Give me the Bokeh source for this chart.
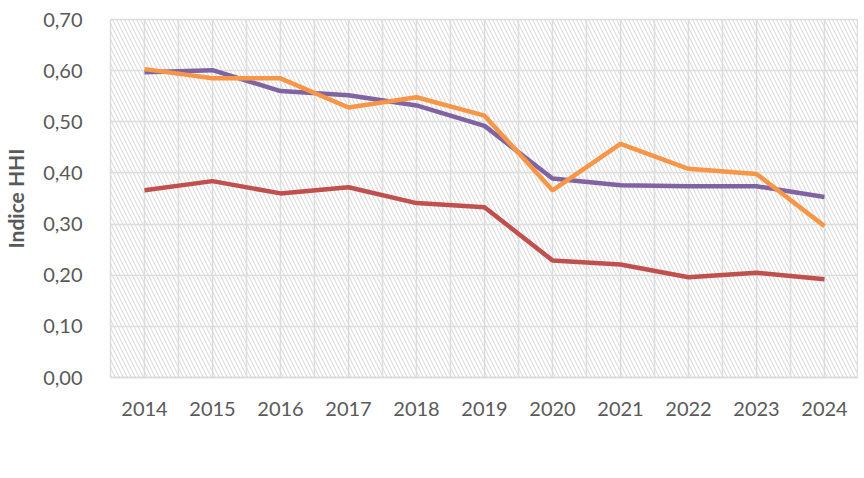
from bokeh.plotting import figure
from bokeh.models import (ColumnDataSource, FixedTicker, CustomJSTickFormatter,
                          BoxAnnotation, Legend, LegendItem, Range1d)
from bokeh.embed import file_html
from bokeh.resources import INLINE

years = [2014, 2015, 2016, 2017, 2018, 2019, 2020, 2021, 2022, 2023, 2024]
total_bilan = [0.366, 0.384, 0.360, 0.372, 0.341, 0.333, 0.229, 0.221, 0.196, 0.205, 0.192]
depots = [0.597, 0.601, 0.560, 0.552, 0.532, 0.492, 0.389, 0.376, 0.374, 0.374, 0.353]
credits = [0.603, 0.585, 0.585, 0.528, 0.548, 0.512, 0.366, 0.457, 0.408, 0.398, 0.296]
y_ticks = [0.0, 0.1, 0.2, 0.3, 0.4, 0.5, 0.6, 0.7]

FONT = "Lato"
TXT = "#595959"
GRID = "#dcdcdc"

p = figure(output_backend="svg", toolbar_location=None,
           width=856, height=470,
           frame_width=748, frame_height=358,
           min_border_left=108, min_border_right=0,
           min_border_top=19, min_border_bottom=0,
           x_range=Range1d(2013.5, 2024.5), y_range=Range1d(0, 0.7))
p.outline_line_color = GRID
p.outline_line_width = 1.5

# hatched plot area
p.add_layout(BoxAnnotation(fill_alpha=0, line_alpha=0,
                           hatch_pattern="\\", hatch_color="#dedede",
                           hatch_scale=8, hatch_weight=1.2, level="underlay"))

src = ColumnDataSource(dict(x=years, tb=total_bilan, dep=depots, cre=credits))
r1 = p.line("x", "tb", source=src, line_color="#C0504D", line_width=4.5)
r2 = p.line("x", "dep", source=src, line_color="#8064A2", line_width=4.5)
r3 = p.line("x", "cre", source=src, line_color="#F79646", line_width=4.5)

# axes
p.xaxis.ticker = FixedTicker(ticks=years)
p.xaxis.formatter = CustomJSTickFormatter(code="return String(tick);")
p.xaxis.axis_line_color = GRID
p.xaxis.axis_line_width = 1.5
p.xaxis.major_tick_line_color = None
p.xaxis.minor_tick_line_color = None
p.xaxis.major_label_text_font = FONT
p.xaxis.major_label_text_font_size = "20px"
p.xaxis.major_label_text_color = TXT
p.xaxis.major_label_standoff = 18

p.yaxis.ticker = FixedTicker(ticks=y_ticks)
p.yaxis.formatter = CustomJSTickFormatter(code="return tick.toFixed(2).replace('.', ',');")
p.yaxis.axis_line_color = None
p.yaxis.major_tick_line_color = None
p.yaxis.minor_tick_line_color = None
p.yaxis.major_label_text_font = FONT
p.yaxis.major_label_text_font_size = "20px"
p.yaxis.major_label_text_color = TXT
p.yaxis.major_label_standoff = 22
p.yaxis.axis_label = "Indice HHI"
p.yaxis.axis_label_text_font = FONT
p.yaxis.axis_label_text_font_style = "bold"
p.yaxis.axis_label_text_font_size = "21px"
p.yaxis.axis_label_text_color = TXT
p.yaxis.axis_label_standoff = 12

# grids
grid_x = [y - 0.5 for y in years] + years + [years[-1] + 0.5]
p.xgrid.ticker = FixedTicker(ticks=grid_x)
p.xgrid.grid_line_color = GRID
p.xgrid.grid_line_width = 1.5
p.ygrid.ticker = FixedTicker(ticks=y_ticks)
p.ygrid.grid_line_color = GRID
p.ygrid.grid_line_width = 1.5

legend = Legend(items=[LegendItem(label="Total bilan", renderers=[r1]),
                       LegendItem(label="Dépôts", renderers=[r2]),
                       LegendItem(label="Crédits", renderers=[r3])],
                orientation="horizontal", location="top_center",
                border_line_color=None, background_fill_alpha=0,
                label_text_font=FONT, label_text_font_size="20px",
                label_text_color=TXT, glyph_width=53, glyph_height=20,
                label_standoff=2, spacing=105, padding=0, margin=26)
p.add_layout(legend, "below")

open("out.html", "w").write(file_html(p, INLINE))
